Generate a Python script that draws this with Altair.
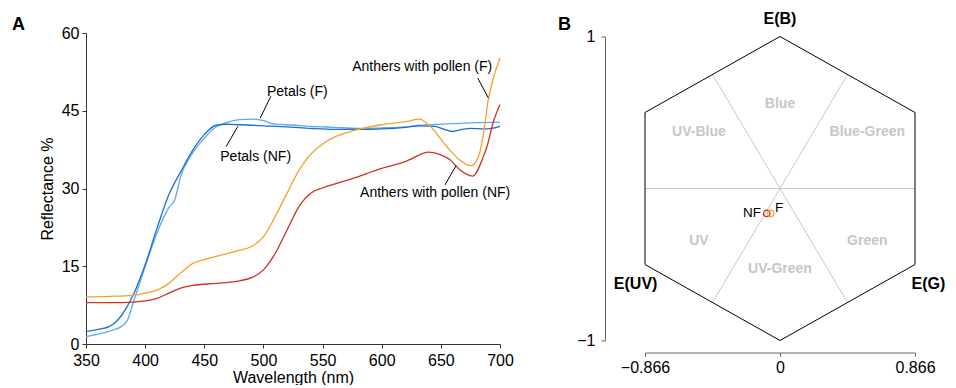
import altair as alt
import pandas as pd

# ---------------- Panel A data ----------------
series_names = ["Petals (F)", "Petals (NF)", "Anthers with pollen (F)", "Anthers with pollen (NF)"]
series_colors = ["#5aaaf2", "#1f6fcf", "#f5a02a", "#cf3020"]

wl_petals_f = [350, 360, 370, 380, 385, 390, 395, 400, 410, 420, 425, 430, 440, 450, 460, 470, 480, 490,
               500, 510, 520, 540, 560, 580, 600, 620, 632, 640, 660, 680, 700]
r_petals_f = [1.4, 1.9, 2.5, 3.4, 4.6, 8.0, 11.5, 14.9, 21.4, 26.3, 27.8, 32.3, 36.8, 39.7, 41.9, 42.8, 43.3, 43.4,
              43.1, 42.4, 42.3, 42.0, 41.8, 41.6, 41.7, 41.9, 42.2, 42.3, 42.5, 42.7, 42.8]

wl_petals_nf = [350, 360, 370, 375, 380, 385, 390, 400, 410, 420, 430, 440, 450, 460, 470, 480, 500, 520, 540,
                560, 580, 600, 620, 632, 645, 652, 660, 668, 675, 686, 693, 700]
r_petals_nf = [2.4, 2.8, 3.4, 4.2, 5.5, 7.3, 9.5, 15.3, 22.3, 28.8, 33.2, 37.3, 40.4, 42.2, 42.4, 42.3, 42.1, 41.9,
               41.6, 41.4, 41.4, 41.5, 41.8, 42.1, 42.0, 41.5, 41.0, 41.4, 41.6, 41.5, 41.6, 42.0]

wl_anthers_f = [350, 370, 390, 400, 410, 420, 430, 440, 450, 460, 470, 480, 490, 500, 510, 520, 530, 540, 550,
                560, 575, 600, 620, 632, 641, 655, 666, 675, 680, 683, 686, 690, 695, 700]
r_anthers_f = [9.1, 9.2, 9.4, 9.8, 10.4, 11.7, 13.7, 15.5, 16.3, 16.9, 17.5, 18.1, 18.8, 20.7, 24.6, 29.1, 33.5,
               36.6, 38.6, 39.9, 41.1, 42.3, 42.9, 43.4, 42.0, 38.1, 35.5, 34.4, 35.3, 37.0, 40.5, 47.0, 51.8, 55.2]

wl_anthers_nf = [350, 380, 400, 410, 420, 430, 440, 460, 480, 490, 500, 510, 520, 530, 540, 550, 575, 600, 620,
                 640, 650, 658, 666, 677, 686, 689, 694, 700]
r_anthers_nf = [8.0, 8.0, 8.3, 8.8, 9.8, 10.8, 11.3, 11.7, 12.2, 12.8, 14.3, 17.5, 22.0, 26.5, 29.1, 30.1, 31.9,
                33.9, 35.2, 37.0, 36.5, 35.5, 33.6, 32.4, 36.2, 38.1, 42.6, 46.2]

x_ticks_a = [350, 400, 450, 500, 550, 600, 650, 700]
y_ticks_a = [0, 15, 30, 45, 60]

# annotations (data coordinates)
ann_labels = ["Petals (F)", "Petals (NF)", "Anthers with pollen (F)", "Anthers with pollen (NF)"]
ann_x = [503, 463.5, 575, 581.7]
ann_y = [48.7, 36.1, 53.5, 29.2]
lead_x1 = [506.3, 478.4, 681.2, 662.8]
lead_y1 = [47.8, 42.0, 51.3, 34.4]
lead_x2 = [497.3, 468.5, 690.1, 653.5]
lead_y2 = [43.6, 38.1, 47.5, 30.7]

# ---------------- Panel B data ----------------
hex_x = [0, 0.866, 0.866, 0, -0.866, -0.866, 0]
hex_y = [1, 0.5, -0.5, -1, -0.5, 0.5, 1]
sec_x1 = [-0.866, -0.433, 0.433]
sec_y1 = [0, 0.75, 0.75]
sec_x2 = [0.866, 0.433, -0.433]
sec_y2 = [0, -0.75, -0.75]
sector_labels = ["Blue", "UV-Blue", "Blue-Green", "UV", "Green", "UV-Green"]
sector_x = [0, -0.52, 0.56, -0.52, 0.56, 0]
sector_y = [0.555, 0.37, 0.37, -0.345, -0.345, -0.53]
corner_labels = ["E(B)", "E(UV)", "E(G)"]
corner_x = [0, -0.926, 1.06]
corner_y = [1.115, -0.625, -0.625]
corner_align = ["center", "center", "right"]
pt_names = ["Anthers with pollen (NF)", "Anthers with pollen (F)"]
pt_x = [-0.085, -0.059]
pt_y = [-0.164, -0.164]
pt_labels = ["NF", "F"]
pt_lab_x = [-0.122, -0.032]
pt_lab_y = [-0.162, -0.125]
x_ticks_b = [-0.866, 0, 0.866]
y_ticks_b = [-1, 0, 1]

FONT = "Liberation Sans"

# ---------------- Panel A ----------------
rows = []
for name, wls, rs in zip(series_names, [wl_petals_f, wl_petals_nf, wl_anthers_f, wl_anthers_nf],
                         [r_petals_f, r_petals_nf, r_anthers_f, r_anthers_nf]):
    for w, r in zip(wls, rs):
        rows.append({"series": name, "wl": w, "r": r})
df_a = pd.DataFrame(rows)

xs_a = alt.Scale(domain=[350, 700], nice=False, zero=False)
ys_a = alt.Scale(domain=[0, 60], nice=False, zero=False)
ax_xa = alt.Axis(values=x_ticks_a, title="Wavelength (nm)", tickSize=4, labelPadding=4, titlePadding=1,
                 labelFlush=False, domainColor="#333", tickColor="#333")
ax_ya = alt.Axis(values=y_ticks_a, title="Reflectance %", tickSize=4, labelPadding=3, titlePadding=6,
                 labelFlush=False, domainColor="#333", tickColor="#333")


def XA(field):
    return alt.X(field, type="quantitative", scale=xs_a, axis=ax_xa)


def YA(field):
    return alt.Y(field, type="quantitative", scale=ys_a, axis=ax_ya)


lines = alt.Chart(df_a).mark_line(strokeWidth=1.3, interpolate="monotone").encode(
    x=XA("wl"), y=YA("r"),
    color=alt.Color("series:N", scale=alt.Scale(domain=series_names, range=series_colors), legend=None),
)

df_ann = pd.DataFrame({"label": ann_labels, "x": ann_x, "y": ann_y})
ann = alt.Chart(df_ann).mark_text(align="left", baseline="middle", fontSize=14, color="black").encode(
    x=XA("x"), y=YA("y"), text="label:N")

df_lead = pd.DataFrame({"x": lead_x1, "y": lead_y1, "x2": lead_x2, "y2": lead_y2})
leads = alt.Chart(df_lead).mark_rule(color="black", strokeWidth=1).encode(
    x=XA("x"), y=YA("y"), x2="x2:Q", y2="y2:Q")

letter_a = alt.Chart(pd.DataFrame({"t": ["A"]})).mark_text(
    align="left", baseline="middle", fontSize=18, fontWeight="bold", color="black").encode(
    text="t:N", x=alt.value(-74), y=alt.value(-8))

panel_a = alt.layer(lines, leads, ann, letter_a).properties(width=414, height=311)

# ---------------- Panel B ----------------
xs_b = alt.Scale(domain=[-0.866, 0.866], nice=False, zero=False)
ys_b = alt.Scale(domain=[-1, 1], nice=False, zero=False)
ax_xb = alt.Axis(values=x_ticks_b, format=".3~f", title=None, offset=12, tickSize=4, labelPadding=3,
                 labelFlush=False, domainColor="#666", tickColor="#666")
ax_yb = alt.Axis(values=y_ticks_b, format="d", title=None, offset=40, tickSize=4, labelPadding=6,
                 labelFlush=False, domainColor="#666", tickColor="#666")


def XB(field):
    return alt.X(field, type="quantitative", scale=xs_b, axis=ax_xb)


def YB(field):
    return alt.Y(field, type="quantitative", scale=ys_b, axis=ax_yb)


df_sec = pd.DataFrame({"x": sec_x1, "y": sec_y1, "x2": sec_x2, "y2": sec_y2})
sectors = alt.Chart(df_sec).mark_rule(color="#c8c8c8", strokeWidth=1).encode(
    x=XB("x"), y=YB("y"), x2="x2:Q", y2="y2:Q")

df_hex = pd.DataFrame({"i": list(range(len(hex_x))), "x": hex_x, "y": hex_y})
hexagon = alt.Chart(df_hex).mark_line(color="black", strokeWidth=1).encode(
    x=XB("x"), y=YB("y"), order="i:Q")

df_sl = pd.DataFrame({"label": sector_labels, "x": sector_x, "y": sector_y})
sec_text = alt.Chart(df_sl).mark_text(fontSize=14, fontWeight="bold", color="#c6c6c6", baseline="middle").encode(
    x=XB("x"), y=YB("y"), text="label:N")

df_cl = pd.DataFrame({"label": corner_labels, "x": corner_x, "y": corner_y, "align": corner_align})
corner_center = alt.Chart(df_cl[df_cl["align"] == "center"]).mark_text(
    fontSize=16, fontWeight="bold", color="black", baseline="middle", align="center").encode(
    x=XB("x"), y=YB("y"), text="label:N")
corner_right = alt.Chart(df_cl[df_cl["align"] == "right"]).mark_text(
    fontSize=16, fontWeight="bold", color="black", baseline="middle", align="right").encode(
    x=XB("x"), y=YB("y"), text="label:N")

df_pt = pd.DataFrame({"series": pt_names, "x": pt_x, "y": pt_y})
points = alt.Chart(df_pt).mark_point(shape="circle", filled=False, size=42, strokeWidth=1.3, opacity=1).encode(
    x=XB("x"), y=YB("y"),
    color=alt.Color("series:N", scale=alt.Scale(domain=series_names, range=series_colors), legend=None))

df_pl = pd.DataFrame({"label": pt_labels, "x": pt_lab_x, "y": pt_lab_y})
pt_text_nf = alt.Chart(df_pl[df_pl.label == "NF"]).mark_text(
    fontSize=13.5, color="black", align="right", baseline="middle").encode(x=XB("x"), y=YB("y"), text="label:N")
pt_text_f = alt.Chart(df_pl[df_pl.label == "F"]).mark_text(
    fontSize=13.5, color="black", align="left", baseline="middle").encode(x=XB("x"), y=YB("y"), text="label:N")

letter_b = alt.Chart(pd.DataFrame({"t": ["B"]})).mark_text(
    align="left", baseline="middle", fontSize=18, fontWeight="bold", color="black").encode(
    text="t:N", x=alt.value(-87), y=alt.value(-12))

panel_b = alt.layer(sectors, hexagon, sec_text, corner_center, corner_right, points, pt_text_nf, pt_text_f,
                    letter_b).properties(width=270, height=304)

chart = alt.hconcat(panel_a, panel_b, spacing=145, bounds="flush", center=True).properties(
    padding={"left": 4, "top": 3, "right": 0, "bottom": 0}
).configure(font=FONT).configure_view(stroke=None).configure_axis(
    grid=False, labelFont=FONT, titleFont=FONT, labelFontSize=16, titleFontSize=16,
    titleFontWeight="normal", labelColor="black", titleColor="black"
).configure_text(font=FONT)

chart.save("out.html", embed_options={"renderer": "svg", "actions": False})
